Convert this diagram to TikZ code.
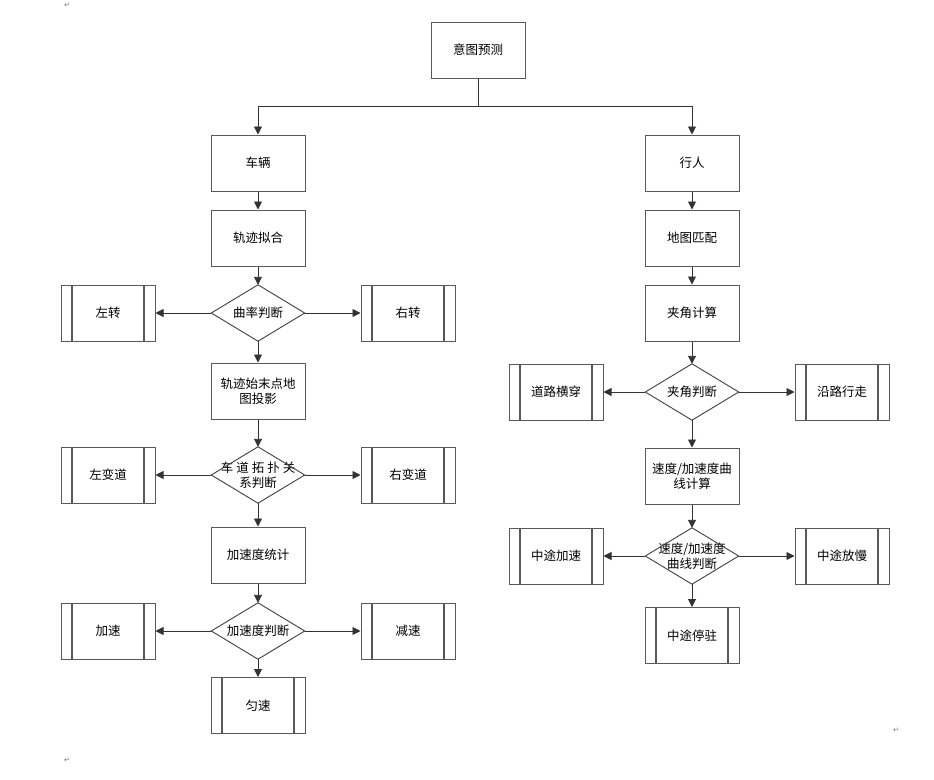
\documentclass[tikz,border=0pt]{standalone}
\usepackage{fontspec}
\setmainfont{Noto Sans CJK SC}
\newfontfamily\symfont{DejaVu Sans}
\usetikzlibrary{arrows.meta}
\newcommand\mydiamond[1]{\draw[draw=black!75, line width=0.9pt] (#1.north) -- (#1.east) -- (#1.south) -- (#1.west) -- cycle;}
\begin{document}
\begin{tikzpicture}[x=1pt,y=-1pt,
  every node/.style={font=\fontsize{12.5}{14.5}\selectfont, align=center, text=black},
  box/.style={draw=black!65, line width=1pt, fill=white, minimum width=94pt, minimum height=56pt, inner sep=0pt},
  subproc/.style={box, path picture={
    \draw[draw=black!65, line width=1.2pt] ([xshift=11pt]path picture bounding box.north west) -- ([xshift=11pt]path picture bounding box.south west);
    \draw[draw=black!65, line width=1.2pt] ([xshift=-11pt]path picture bounding box.north east) -- ([xshift=-11pt]path picture bounding box.south east);}},
  dnode/.style={minimum width=93pt, minimum height=56pt, inner sep=0pt},
  conn/.style={draw=black!80, line width=0.9pt},
  arr/.style={conn, -{Triangle[length=8pt,width=8pt]}},
  pmark/.style={font=\symfont\fontsize{7}{7}\selectfont, text=black!55, inner sep=0pt}]
\useasboundingbox (0,0) rectangle (934,779);
\fill[white] (0,0) rectangle (934,779);

% paragraph marks
\node[pmark] (pm1) at (67,5) {↵};
\node[pmark] (pm2) at (896,730) {↵};
\node[pmark] (pm3) at (67,760) {↵};

% top
\node[box] (top) at (478,50) {意图预测};
\coordinate (split) at (478,106);

% left column
\node[box] (car) at (258,163) {车辆};
\node[box] (fit) at (258,238) {轨迹拟合};
\node[dnode] (curv) at (258,313) {曲率判断};
\node[subproc] (lt) at (108,313) {左转};
\node[subproc] (rt) at (408,313) {右转};
\node[box] (proj) at (258,391) {轨迹始末点地\\图投影};
\node[dnode] (lane) at (258,475) {车\kern3pt 道\kern3pt 拓\kern3pt 扑\kern3pt 关\\系判断};
\node[subproc] (ll) at (108,475) {左变道};
\node[subproc] (rl) at (408,475) {右变道};
\node[box] (acc) at (258,555) {加速度统计};
\node[dnode] (accj) at (258,631) {加速度判断};
\node[subproc] (spd) at (108,631) {加速};
\node[subproc] (dec) at (408,631) {减速};
\node[subproc] (uni) at (258,705.5) {匀速};

% right column
\node[box] (ped) at (692,163) {行人};
\node[box] (map) at (692,238) {地图匹配};
\node[box] (ang) at (692,313) {夹角计算};
\node[dnode] (angj) at (692,392) {夹角判断};
\node[subproc] (cross) at (556,392) {道路横穿};
\node[subproc] (along) at (842,392) {沿路行走};
\node[box] (vcalc) at (692,476) {速度/加速度曲\\线计算};
\node[dnode] (vj) at (692,556) {速度/加速度\\曲线判断};
\node[subproc] (macc) at (556,556) {中途加速};
\node[subproc] (mslow) at (842,556) {中途放慢};
\node[subproc] (mstop) at (692,635.5) {中途停驻};

% diamonds
\mydiamond{curv}
\mydiamond{lane}
\mydiamond{accj}
\mydiamond{angj}
\mydiamond{vj}

% connectors
\draw[conn] (top.south) -- (split);
\draw[arr] (split) -| (car.north);
\draw[arr] (split) -| (ped.north);

\draw[arr] (car) -- (fit);
\draw[arr] (fit) -- (curv);
\draw[arr] (curv.west) -- (lt);
\draw[arr] (curv.east) -- (rt);
\draw[arr] (curv.south) -- (proj);
\draw[arr] (proj) -- (lane);
\draw[arr] (lane.west) -- (ll);
\draw[arr] (lane.east) -- (rl);
\draw[arr] (lane.south) -- (acc);
\draw[arr] (acc) -- (accj.north);
\draw[arr] (accj.west) -- (spd);
\draw[arr] (accj.east) -- (dec);
\draw[arr] (accj.south) -- (uni);

\draw[arr] (ped) -- (map);
\draw[arr] (map) -- (ang);
\draw[arr] (ang) -- (angj.north);
\draw[arr] (angj.west) -- (cross);
\draw[arr] (angj.east) -- (along);
\draw[arr] (angj.south) -- (vcalc);
\draw[arr] (vcalc) -- (vj.north);
\draw[arr] (vj.west) -- (macc);
\draw[arr] (vj.east) -- (mslow);
\draw[arr] (vj.south) -- (mstop);
\end{tikzpicture}
\end{document}
